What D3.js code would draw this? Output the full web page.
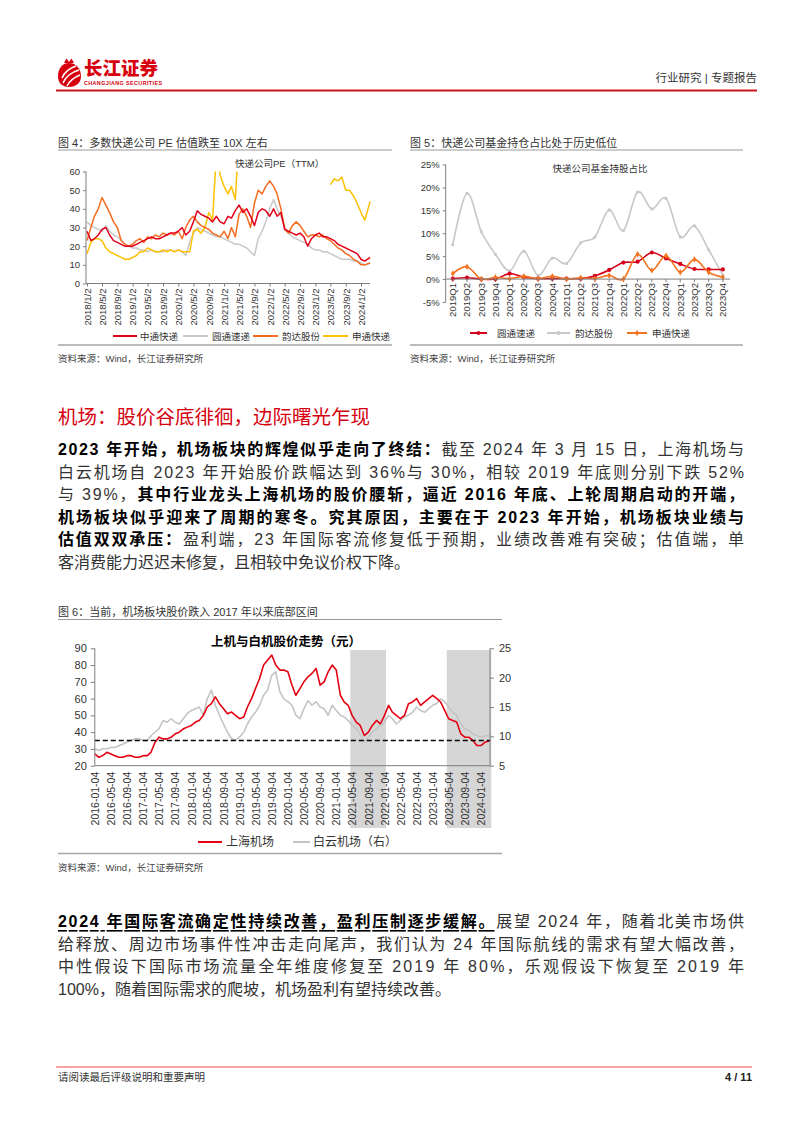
<!DOCTYPE html>
<html><head><meta charset="utf-8">
<script src="https://cdn.jsdelivr.net/npm/d3@7"></script>
<style>
html,body{margin:0;padding:0;background:#fff;}
#page{position:relative;width:802px;height:1133px;overflow:hidden;background:#fff;}
</style></head>
<body><div id="page"><svg id="svg" width="802" height="1133"></svg></div>
<script>
// ---------------- DATA ----------------
// Figure 4: PE (TTM), monthly from 2018-01 to 2024-03
const peZTO = [28,23,24,26,29,30,26,23,22,21,20,20, 20,21,22,23,24,25,24,24,25,26,27,27, 28,30,26,28,33,39,37,36,35,33,36,33, 32,36,35,39,42,38,40,36,31,38,40,39, 36,40,36,38,29,28,27,26,27,25,20,24, 26,27,25,25,24,23,21,20,19,18,17,16, 13,12,14];
const peYTO = [33,31,30,29,28,31,28,26,25,23,21,20, 19,19,18,18,17,18,17,17,17,18,18,17, 18,17,15,22,27,30,29,28,27,26,25,25, 24,23,22,21,21,20,19,17,15,24,28,33, 40,45,40,36,30,27,25,24,23,22,21,19, 18,18,17,17,16,15,14,13,13,13,12,12, 11,10,11];
const peYunda = [23,30,36,40,46,42,38,33,30,23,21,20, 21,23,24,22,25,24,26,25,27,26,27,26, 28,24,30,34,36,33,31,30,29,27,26,25, 28,24,30,25,37,40,36,30,43,50,48,52, 55,52,48,40,29,27,31,33,31,28,25,26, 26,25,26,24,23,21,19,18,16,15,13,12, 10,10,11];
const peSTO = [16,22,24,24,23,19,17,16,15,14,13,13, 14,15,17,17,19,18,17,17,18,17,18,17, 18,17,17,17,28,29,27,30,38,34,70,58, 52,48,52,45,80,null,null,null,null,null,null,null, null,null,null,null,null,null,null,null,null,null,null,null, null,null,null,null,53,56,55,57,50,50,47,43, 38,34,44];
const peSeries = ["中通快递","圆通速递","韵达股份","申通快递"];
const peTicks = ["2018/1/2","2018/5/2","2018/9/2","2019/1/2","2019/5/2","2019/9/2","2020/1/2","2020/5/2","2020/9/2","2021/1/2","2021/5/2","2021/9/2","2022/1/2","2022/5/2","2022/9/2","2023/1/2","2023/5/2","2023/9/2","2024/1/2"];
const peYTicks = [0,10,20,30,40,50,60];

// Figure 5: fund holding ratio (%)
const fundQuarters = ["2019Q1","2019Q2","2019Q3","2019Q4","2020Q1","2020Q2","2020Q3","2020Q4","2021Q1","2021Q2","2021Q3","2021Q4","2022Q1","2022Q2","2022Q3","2022Q4","2023Q1","2023Q2","2023Q3","2023Q4"];
const fundYTO = [0.1,0.3,0.0,0.0,1.2,0.4,0.1,0.1,0.1,0.1,0.7,2.0,3.6,3.8,5.8,4.5,3.3,2.2,2.1,2.1];
const fundYunda = [7.5,18.7,10.4,5.4,1.8,6.1,0.8,4.6,3.4,7.9,9.2,15.1,10.6,19.0,15.3,17.6,9.2,11.6,6.4,0.8];
const fundSTO = [1.2,2.7,0.0,0.4,0.1,0.6,0.1,0.6,0.0,0.3,0.1,0.8,0.0,5.4,1.9,5.1,1.5,4.3,1.5,0.4];
const fundSeries = ["圆通速递","韵达股份","申通快递"];
const fundYTicks = [-5,0,5,10,15,20,25];

// Figure 6: airport share prices, monthly 2016-01 .. 2024-03
const priceSHA = [27,25,26,28,27,26,25,25,26,26,25,25, 26,26,28,34,37,36,36,37,39,40,42,43, 44,46,47,50,55,57,61,57,54,51,52,50, 48,49,55,60,66,72,80,83,86,80,77,77, 76,68,62,66,70,73,75,78,68,70,76,80, 77,62,58,56,50,46,44,38,40,44,47,45, 50,56,52,50,48,50,57,58,60,56,58,60, 62,60,58,53,48,47,46,39,37,37,35,32, 32,34,35];
const priceBAI = [7.9,7.6,7.9,7.9,8.1,8.1,8.4,8.7,9.0,9.3,9.6,9.6, 9.3,9.3,10.1,10.7,11.3,12.7,12.4,13.0,12.4,12.1,13.0,13.9, 14.4,14.7,15.0,13.6,16.4,17.9,15.3,13.6,12.1,10.7,9.6,9.3, 9.9,10.7,12.1,13.3,14.1,15.3,17.0,17.9,20.4,21.0,17.6,16.4, 15.9,15.3,13.6,13.0,14.7,16.1,15.3,15.9,15.0,14.7,13.6,15.3, 14.4,13.6,13.3,12.7,11.9,11.3,10.4,9.0,9.9,10.7,11.3,11.9, 12.4,13.6,13.0,12.1,12.7,13.3,13.6,14.1,15.0,14.4,14.1,14.7, 15.3,15.6,16.4,15.9,15.0,14.1,13.6,12.1,11.3,11.0,10.4,10.1, 9.9,10.1,10.1];
const priceSeries = ["上海机场","白云机场（右）"];
const priceTicks = ["2016-01-04","2016-05-04","2016-09-04","2017-01-04","2017-05-04","2017-09-04","2018-01-04","2018-05-04","2018-09-04","2019-01-04","2019-05-04","2019-09-04","2020-01-04","2020-05-04","2020-09-04","2021-01-04","2021-05-04","2021-09-04","2022-01-04","2022-05-04","2022-09-04","2023-01-04","2023-05-04","2023-09-04","2024-01-04"];
const priceLeftTicks = [20,30,40,50,60,70,80,90];
const priceRightTicks = [5,10,15,20,25];
const shadeRanges = [["2021-04-20","2022-01-15"],["2023-04-20","2024-03-22"]];
const bottomLine = 35;

// Body text (segments: [text, bold?, underline?])
const para1 = [
  [["2023 年开始，机场板块的辉煌似乎走向了终结：",1],["截至 2024 年 3 月 15 日，上海机场与",0]],
  [["白云机场自 2023 年开始股价跌幅达到 36%与 30%，相较 2019 年底则分别下跌 52%",0]],
  [["与 39%，",0],["其中行业龙头上海机场的股价腰斩，逼近 2016 年底、上轮周期启动的开端，",1]],
  [["机场板块似乎迎来了周期的寒冬。究其原因，主要在于 2023 年开始，机场板块业绩与",1]],
  [["估值双双承压：",1],["盈利端，23 年国际客流修复低于预期，业绩改善难有突破；估值端，单",0]],
  [["客消费能力迟迟未修复，且相较中免议价权下降。",0]]
];
const para2 = [
  [["2024 年国际客流确定性持续改善，盈利压制逐步缓解。",1,1],["展望 2024 年，随着北美市场供",0]],
  [["给释放、周边市场事件性冲击走向尾声，我们认为 24 年国际航线的需求有望大幅改善，",0]],
  [["中性假设下国际市场流量全年维度修复至 2019 年 80%，乐观假设下恢复至 2019 年",0]],
  [["100%，随着国际需求的爬坡，机场盈利有望持续改善。",0]]
];

// ---------------- DRAW ----------------
const FONT = "Liberation Sans, Arial, Noto Sans CJK SC, sans-serif";
const svg = d3.select("#svg").attr("font-family",FONT);
svg.append("rect").attr("width",802).attr("height",1133).attr("fill","#fff");
const AX = "#7f7f7f", TX = "#333";
function txt(x,y,s,o={}){ const t=svg.append("text").attr("x",x).attr("y",y).text(s)
  .attr("font-size",o.size||11).attr("fill",o.fill||TX).attr("text-anchor",o.anchor||"start")
  .attr("dominant-baseline","central"); if(o.weight) t.attr("font-weight",o.weight); if(o.family) t.attr("font-family",o.family); return t; }
function hline(x1,x2,y,c,w){ svg.append("line").attr("x1",x1).attr("x2",x2).attr("y1",y).attr("y2",y).attr("stroke",c).attr("stroke-width",w); }
function vline(x,y1,y2,c,w){ svg.append("line").attr("x1",x).attr("x2",x).attr("y1",y1).attr("y2",y2).attr("stroke",c).attr("stroke-width",w); }
const parseYMD = d3.timeParse("%Y/%-m/%-d"), parseISO = d3.timeParse("%Y-%m-%d");

// Header
const logo = svg.append("g").attr("transform","translate(58,58)");
logo.append("path").attr("d","M6,5 L8.5,0.5 L11,4 L13.5,0.5 L16,5 Z").attr("fill","#d7000f");
logo.append("path").attr("d","M11,5 C18,5 23,11 23,18 C23,25 18,29 11,29 C4,29 0,25 0,18 C0,11 4,5 11,5 Z").attr("fill","#d7000f");
[["M4,20 C7,13 12,10 18,8",1.6],["M5,25 C8,18 14,14 21,12",1.6],["M9,28 C12,22 17,19 22,17",1.4]].forEach(p=>
  logo.append("path").attr("d",p[0]).attr("fill","none").attr("stroke","#fff").attr("stroke-width",p[1]));
txt(84,67,"长江证券",{size:18.5,fill:"#d7000f",weight:900,family:"Noto Sans CJK SC"});
svg.append("text").attr("x",84).attr("y",85).attr("font-size",5.4).attr("font-weight","bold").attr("fill","#d7000f")
  .attr("textLength",78).attr("lengthAdjust","spacing").text("CHANGJIANG SECURITIES");
txt(757,78,"行业研究 | 专题报告",{size:11.5,anchor:"end",fill:"#333"});
hline(56,757,90.5,"#c8161d",2);

// ---------- Figure 4 ----------
txt(58,143,"图 4：多数快递公司 PE 估值跌至 10X 左右",{size:11});
hline(58,392,150,"#9a9a9a",1);
const x4 = d3.scaleTime().domain([parseYMD("2018/1/2"),parseYMD("2024/1/2")]).range([87,361]);
const y4 = d3.scaleLinear().domain([0,60]).range([283.5,171.5]);
const peDates = peZTO.map((_,i)=> i===peZTO.length-1 ? new Date(2024,2,15) : new Date(2018,i,2));
svg.append("clipPath").attr("id","clip4").append("rect").attr("x",86).attr("y",171.5).attr("width",290).attr("height",113);
const g4 = svg.append("g");
g4.append("g").attr("transform","translate(86,0)").call(d3.axisLeft(y4).tickValues(peYTicks).tickSize(3).tickPadding(3))
  .call(g=>{g.select(".domain").remove(); g.selectAll("line").attr("stroke",AX); g.selectAll("text").attr("font-size",9.5).attr("fill",TX);});
g4.append("g").attr("transform","translate(0,283.5)").call(d3.axisBottom(x4).tickValues(peTicks.map(parseYMD)).tickFormat(d3.timeFormat("%Y/%-m/%-d")).tickSize(3))
  .call(g=>{g.select(".domain").remove(); g.selectAll("line").attr("stroke",AX);
    g.selectAll("text").attr("transform","rotate(-90)").attr("text-anchor","end").attr("x",-5).attr("y",0).attr("dy","0.35em").attr("font-size",9.5).attr("fill",TX);});
vline(86,171.5,283.5,AX,1); hline(86,370,283.5,AX,1);
const peColors = ["#e2001a","#c8c8c8","#f36c21","#ffc000"];
const peData = [peZTO,peYTO,peYunda,peSTO];
const line4 = d3.line().defined(d=>d[1]!=null).x(d=>x4(d[0])).y(d=>y4(d[1]));
[1,3,2,0].forEach(k=>{
  g4.append("path").attr("clip-path","url(#clip4)").attr("fill","none").attr("stroke",peColors[k]).attr("stroke-width",1.5)
    .attr("stroke-linejoin","round").attr("d",line4(peData[k].map((v,i)=>[peDates[i],v])));
});
txt(235,163,"快递公司PE（TTM）",{size:9.5});
const lg4x = [[113,137,140],[183,208,212],[253,278,282],[323,348,352]];
peSeries.forEach((s,i)=>{ hline(lg4x[i][0],lg4x[i][1],336,peColors[i],2); txt(lg4x[i][2],336,s,{size:9.5}); });
hline(58,392,345,"#a6a6a6",1.5);
txt(58,358,"资料来源：Wind，长江证券研究所",{size:9.5,fill:"#444"});

// ---------- Figure 5 ----------
txt(410,143,"图 5：快递公司基金持仓占比处于历史低位",{size:11});
hline(410,743,150,"#9a9a9a",1);
const x5 = d3.scaleBand().domain(fundQuarters).range([445.7,730]).padding(0);
const y5 = d3.scaleLinear().domain([-5,25]).range([302,164.5]);
const cx5 = q => x5(q)+x5.bandwidth()/2;
const g5 = svg.append("g");
g5.append("g").attr("transform","translate(445.7,0)").call(d3.axisLeft(y5).tickValues(fundYTicks).tickFormat(d=>d+"%").tickSize(3).tickPadding(3))
  .call(g=>{g.select(".domain").remove(); g.selectAll("line").attr("stroke",AX); g.selectAll("text").attr("font-size",9.5).attr("fill",TX);});
g5.append("g").attr("transform",`translate(0,${y5(0)})`).call(d3.axisBottom(x5).tickSize(3))
  .call(g=>{g.select(".domain").remove(); g.selectAll("line").attr("stroke",AX);
    g.selectAll("text").attr("transform","rotate(-90)").attr("text-anchor","end").attr("x",-4).attr("y",0).attr("dy","0.35em").attr("font-size",9.5).attr("fill",TX);});
vline(445.7,164.5,302,AX,1); hline(445.7,730,y5(0),AX,1);
const fundColors = ["#d7001a","#c8c8c8","#f4731f"];
const fundData = [fundYTO,fundYunda,fundSTO];
const line5 = d3.line().curve(d3.curveCardinal.tension(0)).x((d,i)=>cx5(fundQuarters[i])).y(d=>y5(d));
[1,0,2].forEach(k=>{
  g5.append("path").attr("fill","none").attr("stroke",fundColors[k]).attr("stroke-width",1.6).attr("d",line5(fundData[k]));
  const sym = k===2 ? d3.symbol(d3.symbolDiamond,12) : d3.symbol(d3.symbolCircle, k===0?14:8);
  g5.selectAll(null).data(fundData[k]).join("path").attr("d",sym)
    .attr("transform",(d,i)=>`translate(${cx5(fundQuarters[i])},${y5(d)})`).attr("fill",fundColors[k]);
});
txt(600,168,"快递公司基金持股占比",{size:9.5,anchor:"middle"});
const lg5x = [[470,487,497],[547,570,575],[627,647,652]];
fundSeries.forEach((s,i)=>{ hline(lg5x[i][0],lg5x[i][1],333,fundColors[i],2);
  svg.append("path").attr("d",(i===2?d3.symbol(d3.symbolDiamond,12):d3.symbol(d3.symbolCircle,12))())
    .attr("transform",`translate(${(lg5x[i][0]+lg5x[i][1])/2},333)`).attr("fill",fundColors[i]);
  txt(lg5x[i][2],333,s,{size:9.5}); });
hline(410,743,345,"#a6a6a6",1.5);
txt(410,358,"资料来源：Wind，长江证券研究所",{size:9.5,fill:"#444"});

// ---------- Section title & paragraph 1 ----------
txt(58,415,"机场：股价谷底徘徊，边际曙光乍现",{size:19.5,fill:"#d7000f",family:"Noto Sans CJK SC"});
function paragraph(lines, y0, step, width, fs){
  lines.forEach((segs,li)=>{
    const t = svg.append("text").attr("x",58).attr("y",y0+li*step).attr("font-size",fs).attr("fill",TX)
      .attr("dominant-baseline","central");
    if(li < lines.length-1) t.attr("textLength",width).attr("lengthAdjust","spacing");
    segs.forEach(s=>{ const ts=t.append("tspan").text(s[0]);
      if(s[1]) ts.attr("font-weight","bold").attr("fill","#000");
      if(s[2]) ts.attr("text-decoration","underline"); });
  });
}
paragraph(para1, 449, 22.6, 686, 16);

// ---------- Figure 6 ----------
txt(58,612,"图 6：当前，机场板块股价跌入 2017 年以来底部区间",{size:11});
hline(58,502,619.5,"#9a9a9a",1);
const x6 = d3.scaleTime().domain([parseISO("2016-01-04"),parseISO("2024-01-04")]).range([94.8,481]);
const yL = d3.scaleLinear().domain([20,90]).range([765.7,648.3]);
const yR = d3.scaleLinear().domain([5,25]).range([765.7,648.3]);
const g6 = svg.append("g");
shadeRanges.forEach(r=>{
  const a=x6(parseISO(r[0])), b=x6(parseISO(r[1]));
  g6.append("rect").attr("x",a).attr("y",650).attr("width",b-a).attr("height",178).attr("fill","#d6d6d6");
});
g6.append("g").attr("transform","translate(94.8,0)").call(d3.axisLeft(yL).tickValues(priceLeftTicks).tickSize(4).tickPadding(4))
  .call(g=>{g.select(".domain").remove(); g.selectAll("line").attr("stroke",AX); g.selectAll("text").attr("font-size",11).attr("fill",TX);});
g6.append("g").attr("transform","translate(490,0)").call(d3.axisRight(yR).tickValues(priceRightTicks).tickSize(4).tickPadding(5))
  .call(g=>{g.select(".domain").remove(); g.selectAll("line").attr("stroke",AX); g.selectAll("text").attr("font-size",11).attr("fill",TX);});
g6.append("g").attr("transform","translate(0,765.7)").call(d3.axisBottom(x6).tickValues(priceTicks.map(parseISO)).tickFormat(d3.timeFormat("%Y-%m-%d")).tickSize(0))
  .call(g=>{g.select(".domain").remove();
    g.selectAll("text").attr("transform","rotate(-90)").attr("text-anchor","end").attr("x",-6).attr("y",0).attr("dy","0.35em").attr("font-size",10.5).attr("fill",TX);});
vline(94.8,648.3,765.7,AX,1); vline(490,648.3,765.7,AX,1); hline(94.8,490,765.7,AX,1);
const pDates = priceSHA.map((_,i)=> i===priceSHA.length-1 ? new Date(2024,2,15) : new Date(2016,i,4));
g6.append("path").attr("fill","none").attr("stroke","#c4c4c4").attr("stroke-width",1.6).attr("stroke-linejoin","round")
  .attr("d",d3.line().x((d,i)=>x6(pDates[i])).y(d=>yR(d))(priceBAI));
g6.append("path").attr("fill","none").attr("stroke","#e50012").attr("stroke-width",1.6).attr("stroke-linejoin","round")
  .attr("d",d3.line().x((d,i)=>x6(pDates[i])).y(d=>yL(d))(priceSHA));
g6.append("line").attr("x1",94.8).attr("x2",490).attr("y1",yL(bottomLine)).attr("y2",yL(bottomLine))
  .attr("stroke","#000").attr("stroke-width",1.4).attr("stroke-dasharray","5,3");
txt(286,642,"上机与白机股价走势（元）",{size:12.5,anchor:"middle",weight:"bold",fill:"#000"});
hline(198,222,842,"#e50012",2); txt(226,842,priceSeries[0],{size:12});
hline(293,310,842,"#c4c4c4",2); txt(313,842,priceSeries[1],{size:12});
hline(58,502,853.5,"#a6a6a6",1.5);
txt(58,867,"资料来源：Wind，长江证券研究所",{size:9.5,fill:"#444"});

// ---------- Paragraph 2 ----------
paragraph(para2, 921, 22.6, 686, 16);

// Footer
hline(56,752,1067,"#f2a4a8",2);
txt(58,1077,"请阅读最后评级说明和重要声明",{size:10.5,fill:"#333"});
txt(752,1077,"4 / 11",{size:11,anchor:"end",weight:"bold",fill:"#222"});
</script>
</body></html>
